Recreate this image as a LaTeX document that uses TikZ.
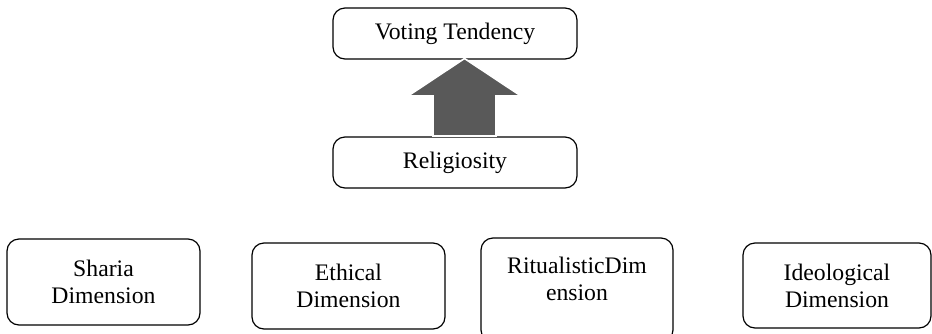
\documentclass[tikz,border=0pt]{standalone}
\usepackage{fontspec}
\setmainfont{Liberation Serif}
\usepackage{tikz}
\usetikzlibrary{positioning}

\definecolor{arrowgray}{HTML}{595959}

\tikzset{
  dimbox/.style={draw, line width=0.6pt, rounded corners=6pt, align=center,
    inner sep=0pt, font=\fontsize{11.85pt}{13.5pt}\selectfont},
}

\begin{document}
\begin{tikzpicture}[x=0.5pt, y=-0.5pt]
      \useasboundingbox (0, 0) rectangle (932, 333);
      \node[dimbox, minimum width=122pt, minimum height=25.5pt] (vote) at (455, 33.5) {Voting Tendency};
      \node[dimbox, minimum width=122pt, minimum height=25.5pt] (relig) at (455, 162.5) {Religiosity};
      \fill[arrowgray, draw=white, line width=0.8pt] (433, 136) -- (433, 96) -- (408, 96) -- (464.5, 58.5)
            -- (521, 96) -- (496, 96) -- (496, 136) -- cycle;
      \node[dimbox, minimum width=96.5pt, minimum height=43pt] (sharia) at (103.5, 282) {Sharia\\Dimension};
      \node[dimbox, minimum width=96.5pt, minimum height=43pt] (ethic) at (348.5, 286) {Ethical\\Dimension};
      \node[dimbox, minimum width=96pt, minimum height=52pt] (ritual) at (577, 290) {};
      \node[align=center, inner sep=0pt, font=\fontsize{11.85pt}{13.5pt}\selectfont] (ritualtext) at (577, 279) {RitualisticDim\\ension};
      \node[dimbox, minimum width=94pt, minimum height=42.5pt] (ideol) at (837, 285.5) {Ideological\\Dimension};
    \end{tikzpicture}
\end{document}
